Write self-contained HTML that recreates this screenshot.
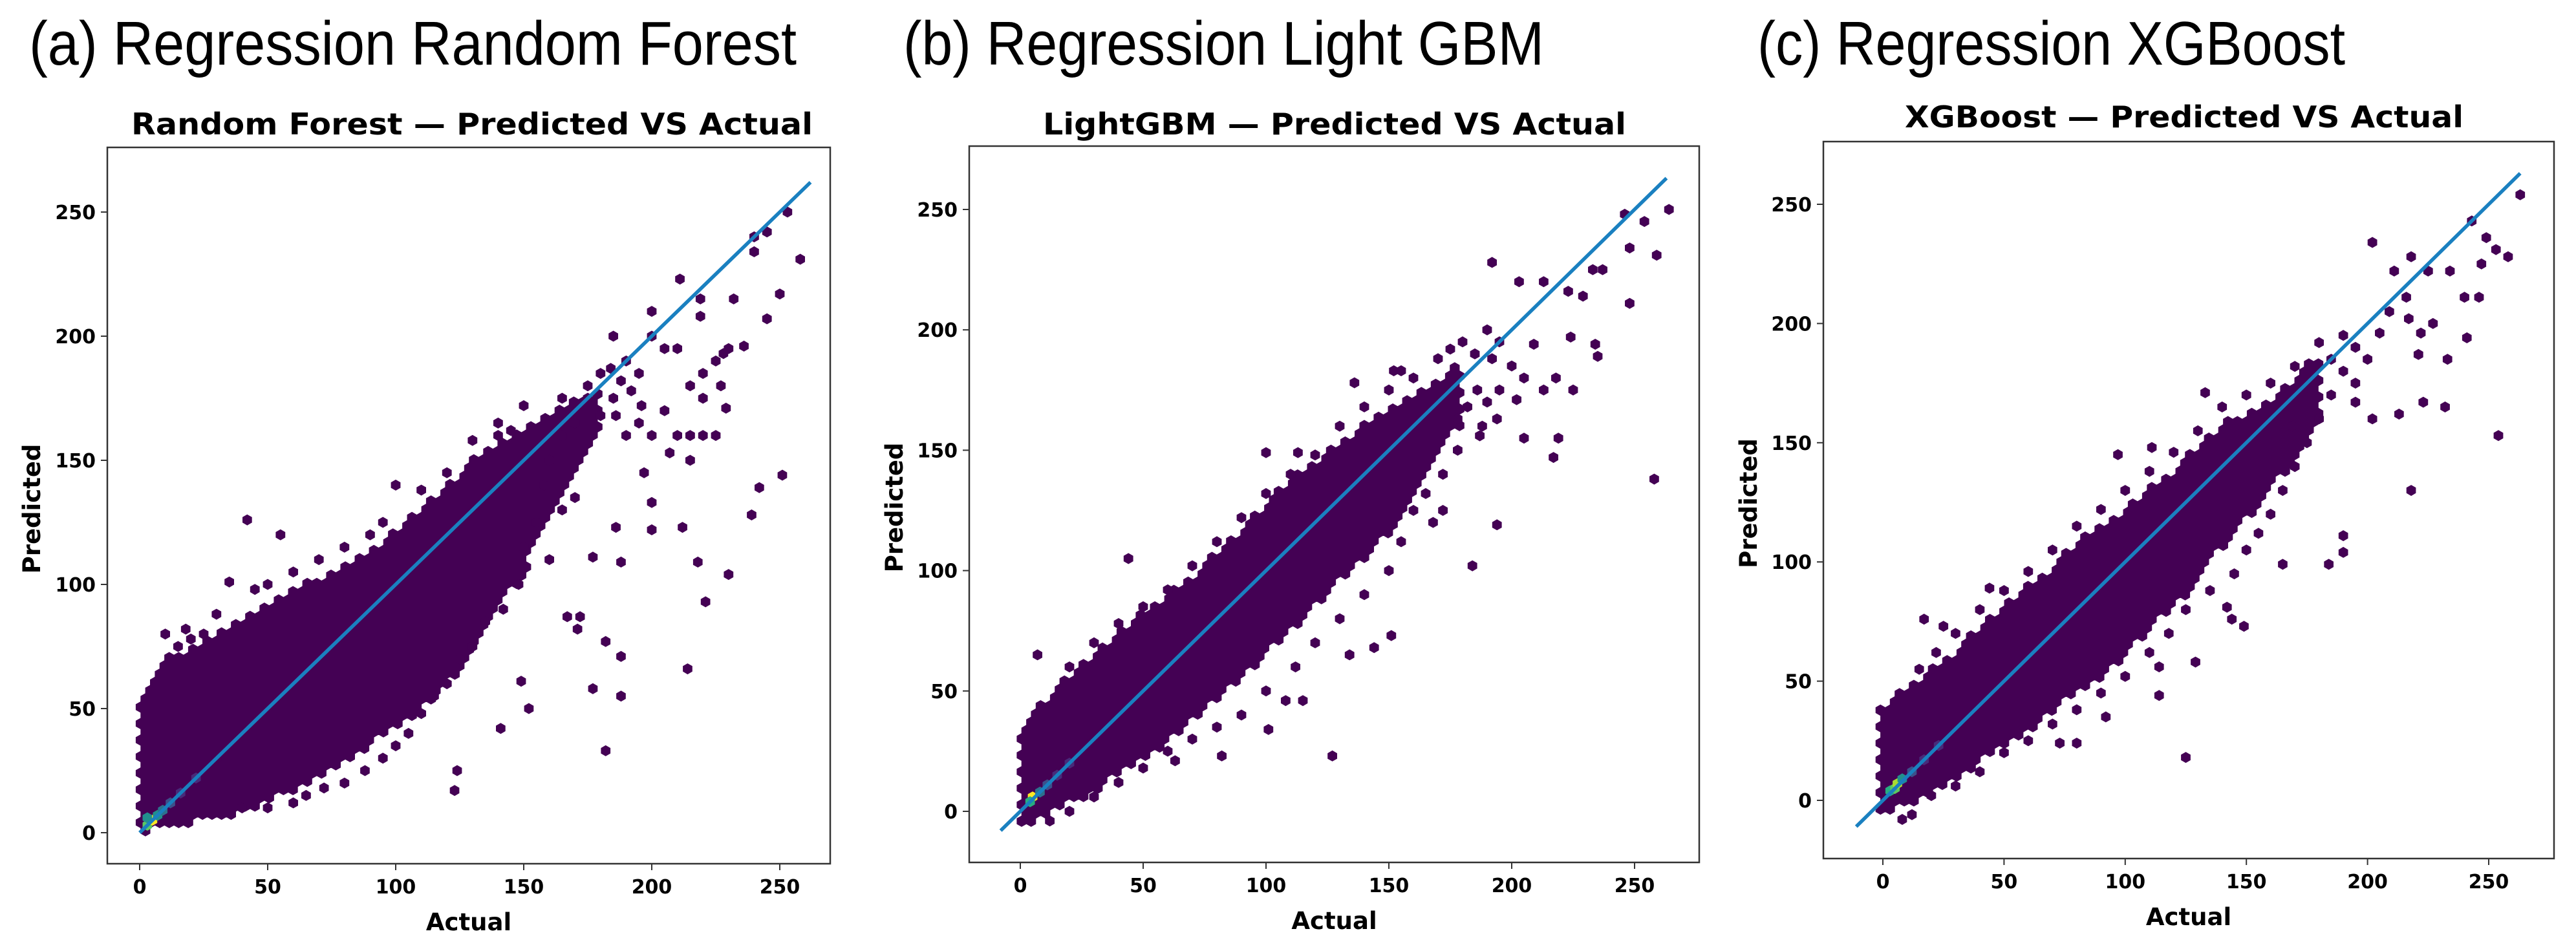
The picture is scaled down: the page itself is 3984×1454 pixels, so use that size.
<!DOCTYPE html>
<html><head><meta charset="utf-8"><style>
html,body{margin:0;padding:0;background:#fff;}
svg{display:block;}
</style></head><body>
<svg id="fig" xmlns="http://www.w3.org/2000/svg" width="3984" height="1454" viewBox="0 0 3984 1454">
<rect width="3984" height="1454" fill="#fff"/>
<text x="45" y="100" font-family="Liberation Sans, sans-serif" font-size="96" textLength="1187" lengthAdjust="spacingAndGlyphs">(a) Regression Random Forest</text>
<text x="1397" y="100" font-family="Liberation Sans, sans-serif" font-size="96" textLength="991" lengthAdjust="spacingAndGlyphs">(b) Regression Light GBM</text>
<text x="2718" y="100" font-family="Liberation Sans, sans-serif" font-size="96" textLength="909" lengthAdjust="spacingAndGlyphs">(c) Regression XGBoost</text>
<g id="plots"></g>
</svg>
<script>
// ---- data ----
const tickValues = [0, 50, 100, 150, 200, 250];
const titles = ["Random Forest — Predicted VS Actual", "LightGBM — Predicted VS Actual", "XGBoost — Predicted VS Actual"];
const bandX = [0,10,20,30,40,50,60,70,80,90,100,110,120,130,140,150,160,170,180];
const rfLow  = [0,3,4,6,8,12,17,22,28,35,42,50,60,72,88,105,125,145,162];
const rfHigh = [55,70,74,80,87,93,98,103,108,114,122,130,140,150,158,164,168,174,178];
const lgLow  = [-6,-2,3,8,15,22,29,37,46,55,65,75,85,95,105,116,130,146,162];
const lgHigh = [36,47,57,65,75,83,90,98,108,118,128,138,145,153,162,168,173,180,187];
const xgLow  = [-6,-2,3,9,16,22,29,37,45,52,61,71,81,92,106,117,131,142,157];
const xgHigh = [40,47,55,63,73,81,91,98,108,115,123,131,139,148,158,163,168,178,188];
const rfOutliers = [[253,250],[258,231],[245,242],[240,234],[240,240],[245,207],[250,217],[232,215],[211,223],[200,210],[219,215],[219,208],[236,196],[228,193],[251,144],[239,128],[242,139],[230,104],[221,93],[218,109],[214,66],[212,123],[188,55],[188,71],[182,33],[182,77],[177,58],[200,122],[200,133],[188,109],[186,123],[177,111],[197,145],[207,153],[215,150],[225,160],[229,171],[227,180],[141,42],[152,50],[149,61],[124,25],[123,17],[42,126],[55,120],[35,101],[167,87],[172,87],[171,82],[190,190],[195,185],[200,200],[205,195],[185,200],[210,195],[215,180],[220,175],[225,190],[230,195],[205,170],[210,160],[200,160],[195,165],[185,175],[180,168],[215,160],[220,160],[220,185],[184,187],[188,182],[192,178],[196,172],[186,168],[190,160],[180,185],[175,180],[170,165],[165,160],[160,150],[158,140],[165,130],[170,135],[155,125],[150,115],[160,110],[148,100],[142,90],[135,85],[130,75],[125,70],[120,60],[115,55],[110,48],[105,40],[100,35],[95,30],[88,25],[80,20],[72,18],[65,15],[60,12],[50,10],[40,10],[100,140],[110,138],[120,145],[130,158],[140,165],[150,172],[95,125],[90,120],[80,115],[70,110],[60,105],[50,100],[45,98],[30,88],[25,80],[20,78],[15,75],[10,80],[18,82],[140,160],[145,162],[165,175],[175,175]];
const lgOutliers = [[264,250],[246,248],[248,234],[259,231],[254,245],[192,228],[203,220],[213,220],[233,225],[237,225],[248,211],[223,216],[258,138],[217,147],[219,155],[205,155],[194,119],[184,102],[127,23],[101,34],[82,23],[63,21],[151,73],[144,68],[134,65],[115,46],[108,46],[44,105],[7,65],[100,149],[113,149],[136,178],[152,183],[155,183],[229,214],[224,197],[209,194],[234,194],[235,189],[225,175],[213,175],[202,171],[194,163],[178,163],[187,156],[218,180],[190,200],[195,195],[185,190],[200,185],[205,180],[192,188],[186,175],[182,168],[190,170],[195,175],[188,160],[178,150],[172,140],[165,132],[160,125],[168,120],[172,125],[155,112],[150,100],[140,90],[130,80],[120,70],[112,60],[100,50],[90,40],[80,35],[70,30],[60,25],[50,18],[40,12],[30,6],[20,0],[12,-4],[20,60],[30,70],[40,78],[50,85],[60,92],[70,102],[80,112],[90,122],[100,132],[110,140],[120,148],[130,160],[140,168],[150,175],[160,180],[170,188],[175,192],[180,195]];
const xgOutliers = [[263,254],[243,243],[249,236],[253,231],[258,228],[247,225],[240,211],[246,211],[241,194],[233,185],[254,153],[218,130],[202,234],[218,228],[211,222],[225,222],[234,222],[232,165],[223,167],[213,162],[202,160],[195,167],[190,111],[190,104],[184,99],[165,99],[149,73],[144,76],[142,81],[125,18],[129,58],[114,44],[114,56],[73,24],[80,24],[92,35],[97,145],[111,148],[133,171],[17,76],[25,73],[44,89],[216,211],[209,205],[217,202],[205,196],[222,196],[227,200],[221,187],[169,157],[190,195],[195,190],[200,185],[185,185],[190,180],[195,175],[185,170],[180,160],[175,150],[170,140],[165,130],[160,120],[155,112],[150,105],[145,95],[135,88],[125,80],[118,70],[110,62],[100,52],[90,45],[80,38],[70,32],[60,25],[50,20],[40,12],[30,6],[20,2],[12,-6],[8,-8],[15,55],[22,62],[30,70],[40,80],[50,88],[60,96],[70,105],[80,115],[90,122],[100,130],[110,138],[120,146],[130,155],[140,165],[150,170],[160,175],[170,182],[180,192]];
const rfDense = [[3,3,0.75],[5,5,0.95],[3,6,0.55],[7,7,0.5],[9,9,0.35],[12,12,0.22],[16,16,0.15],[22,22,0.1],[30,30,0.06]];
const lgDense = [[5,6,0.98],[4,4,0.6],[8,8,0.4],[11,11,0.25],[15,15,0.15],[20,20,0.1],[28,28,0.06]];
const xgDense = [[3,4,0.65],[5,5,0.8],[6,7,0.9],[8,9,0.45],[12,12,0.25],[17,17,0.15],[23,23,0.1],[30,30,0.06]];
const lineStart = [0, -8, -11];
const lineEnd = [262, 263, 263];

// ---- layout ----
const panels = [
  {box:[166,228,1284,1336], x0:216, x250:1206, y0:1288, y250:328, low:rfLow, high:rfHigh, out:rfOutliers, dense:rfDense, titleX:730, titleY:208, titleW:1054, ylabX:50},
  {box:[1499,226,2628,1334], x0:1578, x250:2528, y0:1255, y250:324, low:lgLow, high:lgHigh, out:lgOutliers, dense:lgDense, titleX:2064, titleY:208, titleW:902, ylabX:1384},
  {box:[2820,219,3950,1328], x0:2912, x250:3849, y0:1238, y250:316, low:xgLow, high:xgHigh, out:xgOutliers, dense:xgDense, titleX:3378, titleY:197, titleW:864, ylabX:2705}
];
const NS = "http://www.w3.org/2000/svg";
const viridis = ["#440154","#472c7a","#3b518b","#2c718e","#21908d","#27ad81","#5cc863","#aadc32","#fde725"];
function vcol(t){return viridis[Math.max(0,Math.min(8,Math.round(t*8)))];}
function interp(arrX, arrY, x){
  if (x < arrX[0]-1 || x > arrX[arrX.length-1]) return null;
  if (x < arrX[0]) return arrY[0];
  for (let i=0;i<arrX.length-1;i++){
    if (x>=arrX[i] && x<=arrX[i+1]){const f=(x-arrX[i])/(arrX[i+1]-arrX[i]);return arrY[i]+f*(arrY[i+1]-arrY[i]);}
  }
  return arrY[arrY.length-1];
}
const R = 8.5;
function hexPts(cx,cy,r){let s="";for(let k=0;k<6;k++){const a=Math.PI/180*(60*k+30);s+=(cx+r*Math.cos(a)).toFixed(1)+","+(cy+r*Math.sin(a)).toFixed(1)+" ";}return s;}
const plots = document.getElementById("plots");
panels.forEach((p, idx) => {
  const g = document.createElementNS(NS,"g");
  
  
  plots.appendChild(g);
  const sx = v => p.x0 + (p.x250-p.x0)*v/250;
  const sy = v => p.y0 + (p.y250-p.y0)*v/250;
  const ix = px => (px-p.x0)*250/(p.x250-p.x0);
  const iy = py => (py-p.y0)*250/(p.y250-p.y0);
  const [L,T,Rt,B] = p.box;
  const cp = document.createElementNS(NS,"clipPath"); cp.setAttribute("id","clip"+idx);
  const cr = document.createElementNS(NS,"rect"); cr.setAttribute("x",L);cr.setAttribute("y",T);cr.setAttribute("width",Rt-L);cr.setAttribute("height",B-T);
  cp.appendChild(cr); g.appendChild(cp);
  const hg = document.createElementNS(NS,"g"); hg.setAttribute("clip-path","url(#clip"+idx+")");
  
  
  g.appendChild(hg);
  let pts = [];
  const hs = Math.sqrt(3)*R, vs = 1.5*R;
  let row=0;
  for (let py=B; py>=T; py-=vs, row++){
    for (let px=L+(row%2?hs/2:0); px<=Rt; px+=hs){
      const dx = ix(px), dy = iy(py);
      const lo = interp(bandX,p.low,dx), hi = interp(bandX,p.high,dx);
      if (lo!==null && dy>=lo && dy<=hi) pts.push(hexPts(px,py,R+0.3));
    }
  }
  const band = document.createElementNS(NS,"path");
  
  
  band.setAttribute("d", pts.map(s=>"M"+s.trim().split(" ").join(" L")+"Z").join(""));
  band.setAttribute("fill","#440154");
  hg.appendChild(band);
  p.out.forEach(o => {
    const h = document.createElementNS(NS,"polygon");
    
    
    h.setAttribute("points", hexPts(sx(o[0]), sy(o[1]), R));
    h.setAttribute("fill","#440154");
    hg.appendChild(h);
  });
  p.dense.forEach(d => {
    const h = document.createElementNS(NS,"polygon");
    
    
    h.setAttribute("points", hexPts(sx(d[0]), sy(d[1]), R));
    h.setAttribute("fill", vcol(d[2]));
    hg.appendChild(h);
  });
  const ln = document.createElementNS(NS,"line");
  
  
  ln.setAttribute("x1",sx(lineStart[idx]));ln.setAttribute("y1",sy(lineStart[idx]));
  ln.setAttribute("x2",sx(lineEnd[idx]));ln.setAttribute("y2",sy(lineEnd[idx]));
  ln.setAttribute("stroke","#1a80c0");ln.setAttribute("stroke-width","5.5");
  g.appendChild(ln);
  const fr = document.createElementNS(NS,"rect");
  
  
  fr.setAttribute("x",L);fr.setAttribute("y",T);fr.setAttribute("width",Rt-L);fr.setAttribute("height",B-T);
  fr.setAttribute("fill","none");fr.setAttribute("stroke","#333");fr.setAttribute("stroke-width","2.5");
  g.appendChild(fr);
  tickValues.forEach(v => {
    const tx = document.createElementNS(NS,"line");
    
    
    tx.setAttribute("x1",sx(v));tx.setAttribute("x2",sx(v));tx.setAttribute("y1",B);tx.setAttribute("y2",B+10);
    tx.setAttribute("stroke","#333");tx.setAttribute("stroke-width","2");
    g.appendChild(tx);
    const tl = document.createElementNS(NS,"text");
    
    
    tl.setAttribute("x",sx(v));tl.setAttribute("y",B+46);tl.setAttribute("text-anchor","middle");
    tl.setAttribute("font-family","DejaVu Sans, sans-serif");tl.setAttribute("font-weight","bold");tl.setAttribute("font-size","30");
    tl.textContent = v; g.appendChild(tl);
    const ty = document.createElementNS(NS,"line");
    
    
    ty.setAttribute("x1",L-10);ty.setAttribute("x2",L);ty.setAttribute("y1",sy(v));ty.setAttribute("y2",sy(v));
    ty.setAttribute("stroke","#333");ty.setAttribute("stroke-width","2");
    g.appendChild(ty);
    const yl = document.createElementNS(NS,"text");
    
    
    yl.setAttribute("x",L-18);yl.setAttribute("y",sy(v)+11);yl.setAttribute("text-anchor","end");
    yl.setAttribute("font-family","DejaVu Sans, sans-serif");yl.setAttribute("font-weight","bold");yl.setAttribute("font-size","30");
    yl.textContent = v; g.appendChild(yl);
  });
  const xl = document.createElementNS(NS,"text");
  
  
  xl.setAttribute("x",(L+Rt)/2);xl.setAttribute("y",B+103);xl.setAttribute("text-anchor","middle");
  xl.setAttribute("font-family","DejaVu Sans, sans-serif");xl.setAttribute("font-weight","bold");xl.setAttribute("font-size","37");
  xl.textContent="Actual"; g.appendChild(xl);
  const ylb = document.createElementNS(NS,"text");
  
  
  const cy = (T+B)/2+5;
  ylb.setAttribute("x",p.ylabX+12);ylb.setAttribute("y",cy);ylb.setAttribute("text-anchor","middle");
  ylb.setAttribute("transform","rotate(-90 "+(p.ylabX+12)+" "+cy+")");
  ylb.setAttribute("font-family","DejaVu Sans, sans-serif");ylb.setAttribute("font-weight","bold");ylb.setAttribute("font-size","37");
  ylb.textContent="Predicted"; g.appendChild(ylb);
  const tt = document.createElementNS(NS,"text");
  
  
  tt.setAttribute("x",p.titleX);tt.setAttribute("y",p.titleY);tt.setAttribute("text-anchor","middle");
  tt.setAttribute("font-family","DejaVu Sans, sans-serif");tt.setAttribute("font-weight","bold");tt.setAttribute("font-size","46");
  tt.setAttribute("textLength",p.titleW);tt.setAttribute("lengthAdjust","spacingAndGlyphs");
  tt.textContent=titles[idx]; g.appendChild(tt);
});
</script>
</body></html>
